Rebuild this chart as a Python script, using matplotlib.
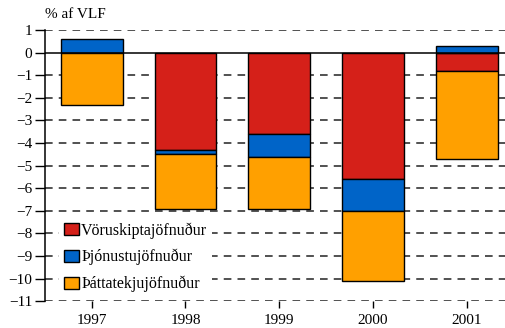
import matplotlib.pyplot as plt
import numpy as np

# Data (% of GDP)
years = ['1997', '1998', '1999', '2000', '2001']
vorur = [0.0, -4.3, -3.6, -5.6, -0.8]       # Vöruskiptajöfnuður
thjonusta = [0.6, -0.2, -1.0, -1.4, 0.3]    # Þjónustujöfnuður
thattatekjur = [-2.3, -2.4, -2.3, -3.1, -3.9]  # Þáttatekjujöfnuður

series = [
    ('Vöruskiptajöfnuður', vorur, '#D52019'),
    ('Þjónustujöfnuður', thjonusta, '#0064C8'),
    ('Þáttatekjujöfnuður', thattatekjur, '#FFA000'),
]

plt.rcParams['font.family'] = 'serif'
plt.rcParams['font.serif'] = ['Liberation Serif', 'Times New Roman', 'Nimbus Roman',
                              'DejaVu Serif']

fig = plt.figure(figsize=(5.05, 3.28), dpi=100)
ax = fig.add_axes([0.089, 0.082, 0.911, 0.826])

x = np.arange(len(years))
pos_base = np.zeros(len(years))
neg_base = np.zeros(len(years))

# Dashed grid lines behind the bars
for y in range(-11, 2):
    if y == 0:
        continue
    ax.axhline(y, color='#222222', linestyle=(0, (5, 4)), linewidth=1.1, zorder=0)
ax.axhline(0, color='black', linewidth=1.1, zorder=3)

for name, vals, color in series:
    vals = np.array(vals)
    bottoms = np.where(vals >= 0, pos_base, neg_base)
    ax.bar(x, vals, width=0.66, bottom=bottoms, color=color, edgecolor='black',
           linewidth=1.0, label=name, zorder=2)
    pos_base = pos_base + np.where(vals >= 0, vals, 0)
    neg_base = neg_base + np.where(vals < 0, vals, 0)

ax.set_xlim(-0.5, 4.41)
ax.set_ylim(-11, 1)
ax.set_yticks(range(-11, 2))
ax.set_xticks(x)
ax.set_xticklabels(years)
ax.tick_params(axis='y', length=7, width=1, labelsize=11, pad=2)
ax.tick_params(axis='x', length=5, width=1, labelsize=11, pad=4)

for side in ['top', 'right', 'bottom']:
    ax.spines[side].set_visible(False)
ax.spines['left'].set_linewidth(1.1)

ax.text(0.0, 1.035, '% af VLF', transform=ax.transAxes, fontsize=11,
        ha='left', va='bottom')

leg = ax.legend(loc='lower left', bbox_to_anchor=(0.03, 0.015), frameon=True,
                fontsize=11.5, handlelength=0.95, handleheight=0.75, handletextpad=0.15,
                labelspacing=0.65, borderpad=0.3, borderaxespad=0.0,
                fancybox=False, framealpha=1)
leg.get_frame().set_facecolor('white')
leg.get_frame().set_edgecolor('none')
leg.set_zorder(5)

plt.savefig('out.png', dpi=100)
